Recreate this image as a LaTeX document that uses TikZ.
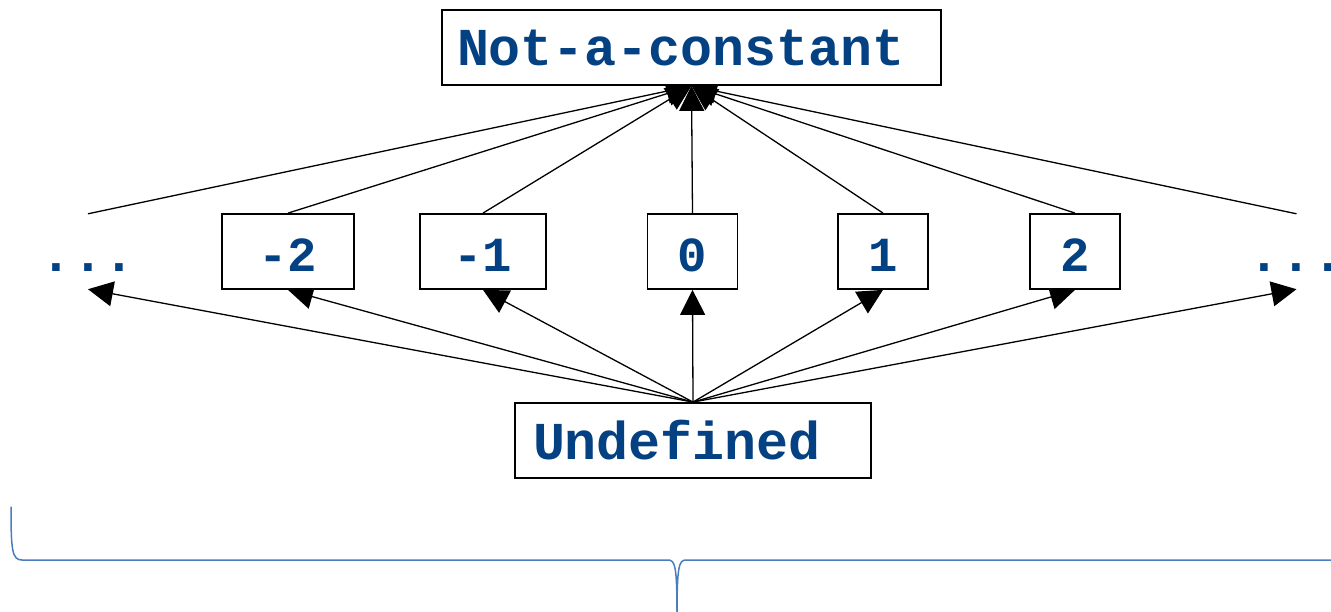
\documentclass[tikz,border=0pt]{standalone}
\usepackage{fontspec}
\newfontfamily\monofam{Liberation Mono}
\usetikzlibrary{arrows.meta,backgrounds}
\definecolor{codeblue}{RGB}{4,65,130}
\definecolor{bracecol}{RGB}{74,126,187}
\begin{document}
\begin{tikzpicture}[x=1pt,y=-1pt,
  wordbox/.style={draw=black, line width=1.8pt, fill=white, inner xsep=15pt, inner ysep=0pt,
    minimum height=75pt, text height=37pt, text depth=0pt, align=left, text=codeblue,
    font=\monofam\bfseries\fontsize{53.3}{60}\selectfont},
  numbox/.style={draw=black, line width=1.8pt, fill=white, inner sep=0pt, minimum height=75pt,
    text height=41pt, text depth=0pt, text=codeblue,
    font=\monofam\bfseries\fontsize{49}{55}\selectfont},
  dotsbox/.style={inner sep=0pt, minimum width=95pt, minimum height=75pt,
    text height=41pt, text depth=0pt, text=codeblue,
    font=\monofam\bfseries\fontsize{53}{60}\selectfont},
  link/.style={line width=1.3pt, draw=black},
  arr/.style={link, -{Triangle[length=25pt,width=25pt]}},
  brace/.style={line width=1.5pt, draw=bracecol, line cap=round}
]
\useasboundingbox (0,0) rectangle (1331,612);

% lattice elements
\node[wordbox, text width=469pt] (nac) at (691.5,47.5) {Not-a-constant};
\node[wordbox, inner xsep=18pt, text width=320pt] (und) at (693,440.5) {Undefined};
\node[numbox, minimum width=132pt] (m2) at (288,251.5) {-2};
\node[numbox, minimum width=126pt] (m1) at (483,251.5) {-1};
\node[numbox, minimum width=90pt] (z) at (692.5,251.5) {0};
\node[numbox, minimum width=90pt] (p1) at (883,251.5) {1};
\node[numbox, minimum width=90pt] (p2) at (1075,251.5) {2};
\node[dotsbox] (dl) at (88,251.5) {...};
\node[dotsbox] (dr) at (1296.5,251.5) {...};

% ordering edges, drawn beneath the boxes
\begin{scope}[on background layer]
  \foreach \n in {dl,m2,m1,p1,p2,dr,z} {
    \draw[arr] (und.north) -- (\n.south);
    \draw[arr] (\n.north) -- (nac.south);
  }
\end{scope}

% brace under the whole lattice
\draw[brace] (11,507) .. controls (11,550) and (12,560) .. (22,560) -- (668,560)
  .. controls (675,560) and (677,566) .. (677,614);
\draw[brace] (677,614) .. controls (677,566) and (679,560) .. (686,560) -- (1345,560);
\end{tikzpicture}
\end{document}
